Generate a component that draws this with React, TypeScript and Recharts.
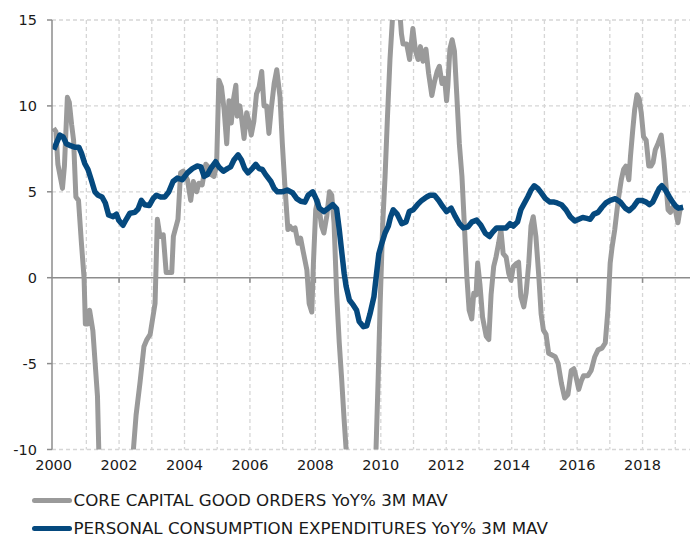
import React from 'react';
import { LineChart, Line, XAxis, YAxis, CartesianGrid, ReferenceLine } from 'recharts';

const FONT = '"DejaVu Sans", Verdana, sans-serif';
const GRAY = '#9a9a9a';
const BLUE = '#05497e';
const AXIS = '#8c8c8c';

const seriesNames = [
  'CORE CAPITAL GOOD ORDERS YoY% 3M MAV',
  'PERSONAL CONSUMPTION EXPENDITURES YoY% 3M MAV',
];

const xTicks = [2000, 2002, 2004, 2006, 2008, 2010, 2012, 2014, 2016, 2018];
const gridYears = [2001, 2002, 2003, 2004, 2005, 2006, 2007, 2008, 2009, 2010, 2011, 2012, 2013, 2014, 2015, 2016, 2017, 2018, 2019];
const zeroTickYears = [2002, 2004, 2006, 2008, 2010, 2012, 2014, 2016, 2018];
const yTicks = [-10, -5, 0, 5, 10, 15];
const yGridValues = [-10, -5, 5, 10, 15];

const grayYears = [
  2000.00, 2000.07, 2000.13, 2000.21, 2000.27, 2000.33, 2000.42, 2000.48, 2000.55, 2000.61,
  2000.68, 2000.76, 2000.85, 2000.93, 2000.97, 2001.04, 2001.10, 2001.20, 2001.27, 2001.34,
  2001.38, 2001.48, 2001.88, 2002.27, 2002.43, 2002.52, 2002.64, 2002.76, 2002.85, 2002.95,
  2003.10, 2003.17, 2003.25, 2003.35, 2003.44, 2003.61, 2003.66, 2003.80, 2003.88, 2003.96,
  2004.09, 2004.19, 2004.27, 2004.37, 2004.44, 2004.54, 2004.65, 2004.75, 2004.82, 2004.90,
  2004.98, 2005.05, 2005.13, 2005.21, 2005.29, 2005.36, 2005.43, 2005.49, 2005.57, 2005.61,
  2005.69, 2005.75, 2005.82, 2005.90, 2005.97, 2006.04, 2006.12, 2006.20, 2006.28, 2006.36,
  2006.43, 2006.51, 2006.58, 2006.65, 2006.74, 2006.82, 2006.92, 2006.99, 2007.07, 2007.16,
  2007.22, 2007.30, 2007.38, 2007.47, 2007.55, 2007.63, 2007.74, 2007.81, 2007.89, 2007.94,
  2008.01, 2008.07, 2008.12, 2008.19, 2008.26, 2008.35, 2008.43, 2008.50, 2008.57, 2008.65,
  2008.73, 2008.80, 2008.88, 2008.95, 2009.12, 2009.43, 2009.73, 2009.85, 2009.92, 2009.98,
  2010.06, 2010.13, 2010.20, 2010.28, 2010.36, 2010.46, 2010.56, 2010.63, 2010.68, 2010.79,
  2010.88, 2010.98, 2011.06, 2011.14, 2011.21, 2011.29, 2011.38, 2011.46, 2011.56, 2011.64,
  2011.72, 2011.79, 2011.87, 2011.95, 2012.01, 2012.05, 2012.11, 2012.18, 2012.25, 2012.32,
  2012.40, 2012.48, 2012.55, 2012.63, 2012.70, 2012.78, 2012.84, 2012.91, 2012.96, 2013.03,
  2013.11, 2013.22, 2013.30, 2013.37, 2013.45, 2013.52, 2013.60, 2013.67, 2013.74, 2013.83,
  2013.91, 2013.98, 2014.05, 2014.13, 2014.21, 2014.28, 2014.37, 2014.44, 2014.52, 2014.59,
  2014.66, 2014.74, 2014.83, 2014.90, 2014.97, 2015.05, 2015.13, 2015.23, 2015.33, 2015.42,
  2015.52, 2015.62, 2015.72, 2015.82, 2015.90, 2015.97, 2016.05, 2016.13, 2016.20, 2016.33,
  2016.43, 2016.54, 2016.64, 2016.76, 2016.86, 2016.94, 2017.01, 2017.07, 2017.15, 2017.22,
  2017.27, 2017.35, 2017.42, 2017.49, 2017.58, 2017.63, 2017.70, 2017.76, 2017.83, 2017.90,
  2017.96, 2018.03, 2018.11, 2018.19, 2018.26, 2018.32, 2018.39, 2018.47, 2018.57, 2018.65,
  2018.72, 2018.78, 2018.85, 2018.92, 2019.00, 2019.08, 2019.14, 2019.19,
];

const grayValues = [
  8.7, 8.5, 6.6, 5.8, 5.2, 6.5, 10.5, 10.2, 8.9, 8.0,
  4.7, 4.5, 2.0, 0.0, -2.7, -2.7, -1.9, -3.1, -5.0, -6.9,
  -10.0, -14, -18, -14, -10.2, -8, -6.1, -4.0, -3.6, -3.3,
  -1.5, 3.4, 2.4, 2.5, 0.3, 0.3, 2.4, 3.4, 6.1, 6.2,
  5.7, 4.5, 5.6, 5.0, 5.5, 5.4, 6.6, 6.4, 6.0, 5.9,
  6.5, 11.5, 11.1, 9.8, 7.8, 10.3, 9.0, 10.3, 11.2, 9.4,
  10.0, 9.2, 8.1, 9.6, 9.1, 8.3, 9.1, 10.7, 11.1, 12.0,
  10.0, 10.0, 8.4, 9.8, 11.3, 12.1, 10.5, 7.8, 5.3, 2.8,
  3.0, 2.8, 2.9, 2.0, 2.3, 1.5, 0.45, -1.5, -2.0, 0.85,
  3.95, 4.5, 3.95, 3.0, 2.6, 3.6, 5.0, 4.8, 3.2, -0.9,
  -3.8, -5.8, -8.3, -10.3, -14, -20, -14, -10.2, -5.8, -1.5,
  3.2, 5.9, 9.2, 12.7, 15.2, 16.5, 16.0, 14.2, 13.6, 13.6,
  12.7, 14.5, 13.2, 12.7, 13.45, 12.6, 13.3, 11.9, 10.6, 11.4,
  12.0, 12.3, 11.3, 11.6, 10.3, 11.2, 13.3, 13.85, 13.2, 10.7,
  7.8, 5.9, 3.2, 0.05, -1.9, -2.4, -0.9, -1.0, 0.85, -0.4,
  -2.3, -3.4, -3.6, -1.0, 0.65, 1.2, 2.0, 2.8, 1.4, 1.2,
  0.25, -0.15, 0.65, 0.8, 0.9, -1.1, -1.7, -0.9, 0.8, 3.0,
  3.55, 2.4, 0.05, -2.1, -3.05, -3.3, -4.4, -4.5, -4.6, -5.0,
  -6.15, -7.0, -6.8, -5.4, -5.3, -5.8, -6.5, -6.0, -5.7, -5.7,
  -5.4, -4.6, -4.2, -4.1, -3.8, -1.9, 0.85, 1.8, 2.8, 3.95,
  4.7, 5.7, 6.3, 6.5, 5.7, 7.05, 8.6, 9.8, 10.65, 10.4,
  9.6, 8.2, 8.0, 6.5, 6.5, 6.7, 7.45, 7.8, 8.3, 6.9,
  5.3, 3.95, 3.8, 4.1, 3.95, 3.2, 3.9, 4.1,
];

const blueYears = [
  2000.00, 2000.08, 2000.19, 2000.29, 2000.39, 2000.49, 2000.64, 2000.77, 2000.85, 2000.95,
  2001.05, 2001.15, 2001.26, 2001.36, 2001.48, 2001.58, 2001.68, 2001.82, 2001.92, 2001.99,
  2002.12, 2002.22, 2002.33, 2002.48, 2002.58, 2002.68, 2002.78, 2002.92, 2003.04, 2003.14,
  2003.27, 2003.40, 2003.52, 2003.65, 2003.78, 2003.93, 2004.09, 2004.24, 2004.39, 2004.50,
  2004.60, 2004.70, 2004.80, 2004.95, 2005.05, 2005.19, 2005.31, 2005.41, 2005.51, 2005.64,
  2005.74, 2005.84, 2005.94, 2006.07, 2006.18, 2006.28, 2006.38, 2006.48, 2006.64, 2006.74,
  2006.84, 2006.99, 2007.14, 2007.30, 2007.43, 2007.55, 2007.68, 2007.78, 2007.92, 2008.02,
  2008.12, 2008.26, 2008.40, 2008.53, 2008.65, 2008.73, 2008.80, 2008.88, 2008.94, 2009.04,
  2009.16, 2009.26, 2009.34, 2009.47, 2009.57, 2009.67, 2009.79, 2009.87, 2009.94, 2010.03,
  2010.13, 2010.23, 2010.30, 2010.38, 2010.50, 2010.64, 2010.77, 2010.87, 2010.99, 2011.12,
  2011.25, 2011.40, 2011.50, 2011.64, 2011.77, 2011.89, 2012.01, 2012.15, 2012.28, 2012.40,
  2012.52, 2012.66, 2012.79, 2012.93, 2013.06, 2013.19, 2013.32, 2013.42, 2013.54, 2013.67,
  2013.83, 2013.95, 2014.05, 2014.18, 2014.28, 2014.39, 2014.49, 2014.59, 2014.69, 2014.80,
  2014.90, 2015.03, 2015.17, 2015.30, 2015.39, 2015.52, 2015.66, 2015.79, 2015.93, 2016.05,
  2016.17, 2016.30, 2016.40, 2016.51, 2016.64, 2016.76, 2016.88, 2017.01, 2017.17, 2017.32,
  2017.47, 2017.59, 2017.73, 2017.86, 2017.98, 2018.11, 2018.21, 2018.31, 2018.41, 2018.51,
  2018.59, 2018.70, 2018.82, 2018.92, 2019.02, 2019.10, 2019.24,
];

const blueValues = [
  7.45, 7.8, 8.3, 8.2, 7.8, 7.7, 7.6, 7.6, 7.25, 6.65,
  6.3, 5.7, 5.0, 4.8, 4.7, 4.35, 3.65, 3.55, 3.7, 3.35,
  3.05, 3.4, 3.75, 3.8, 4.0, 4.5, 4.25, 4.2, 4.6, 4.8,
  4.7, 4.7, 5.0, 5.6, 5.8, 5.7, 6.1, 6.35, 6.5, 6.45,
  5.9, 6.0, 6.35, 6.75, 6.45, 6.2, 6.35, 6.45, 6.85, 7.15,
  6.85, 6.35, 6.1, 6.35, 6.6, 6.35, 6.3, 6.0, 5.6, 5.2,
  5.0, 5.0, 5.1, 4.95, 4.6, 4.45, 4.4, 4.8, 5.0, 4.6,
  4.05, 3.85, 4.05, 4.25, 4.0, 2.8, 1.6, 0.25, -0.5, -1.3,
  -1.6, -1.9, -2.55, -2.85, -2.8, -2.1, -1.1, 0.25, 1.4, 2.0,
  2.6, 3.0, 3.55, 3.95, 3.7, 3.15, 3.25, 3.85, 3.95, 4.25,
  4.5, 4.7, 4.8, 4.8, 4.5, 4.15, 3.85, 4.05, 3.55, 3.15,
  2.9, 2.95, 3.25, 3.35, 3.05, 2.6, 2.4, 2.65, 2.9, 2.9,
  2.9, 3.15, 3.0, 3.25, 3.95, 4.35, 4.7, 5.1, 5.35, 5.2,
  4.95, 4.6, 4.4, 4.4, 4.35, 4.25, 3.95, 3.55, 3.3, 3.4,
  3.5, 3.45, 3.4, 3.7, 3.8, 4.1, 4.35, 4.5, 4.6, 4.4,
  4.05, 3.9, 4.15, 4.5, 4.5, 4.4, 4.25, 4.4, 4.8, 5.2,
  5.35, 5.1, 4.7, 4.4, 4.15, 4.05, 4.1,
];

const grayData = grayYears.map((t, i) => ({ t, v: grayValues[i] }));
const blueData = blueYears.map((t, i) => ({ t, v: blueValues[i] }));

const legendItems = [
  { name: seriesNames[0], color: GRAY },
  { name: seriesNames[1], color: BLUE },
];

export default function App() {
  return (
    <div style={{ position: 'absolute', left: 0, top: 0, width: 690, height: 537, background: '#fff', fontFamily: FONT, overflow: 'hidden' }}>
      <LineChart width={690} height={537} margin={{ top: 20, right: 0, bottom: 57.5, left: 0 }}>
        <CartesianGrid
          horizontalValues={yGridValues}
          verticalValues={gridYears}
          stroke="#d6d6d6"
          strokeDasharray="4 3"
          strokeWidth={1.3}
        />
        <XAxis
          type="number"
          dataKey="t"
          domain={[1999.95, 2019.45]}
          allowDataOverflow
          ticks={xTicks}
          interval={0}
          tickFormatter={(v: number) => String(Math.round(v))}
          axisLine={false}
          tickLine={false}
          height={30}
          tickMargin={4}
          tick={{ fontSize: 14.5, fill: '#1a1a1a', fontFamily: FONT }}
        />
        <YAxis
          type="number"
          domain={[-10, 15]}
          allowDataOverflow
          ticks={yTicks}
          interval={0}
          width={52}
          axisLine={{ stroke: AXIS, strokeWidth: 1.5 }}
          tickLine={{ stroke: AXIS, strokeWidth: 1.5 }}
          tickSize={5}
          tickMargin={10}
          tick={{ fontSize: 14.5, fill: '#1a1a1a', fontFamily: FONT }}
        />
        <ReferenceLine y={0} stroke={AXIS} strokeWidth={1.5} />
        {zeroTickYears.map((yr) => (
          <ReferenceLine
            key={yr}
            segment={[{ x: yr, y: 0 }, { x: yr, y: -0.3 }]}
            stroke={AXIS}
            strokeWidth={1.5}
          />
        ))}
        <Line
          data={grayData}
          dataKey="v"
          name={seriesNames[0]}
          stroke={GRAY}
          strokeWidth={5}
          dot={false}
          activeDot={false}
          type="linear"
          strokeLinejoin="round"
          isAnimationActive={false}
        />
        <Line
          data={blueData}
          dataKey="v"
          name={seriesNames[1]}
          stroke={BLUE}
          strokeWidth={5.5}
          dot={false}
          activeDot={false}
          type="linear"
          strokeLinejoin="round"
          isAnimationActive={false}
        />
      </LineChart>
      {legendItems.map((item, i) => (
        <div
          key={item.name}
          style={{
            position: 'absolute',
            left: 32,
            top: 492 + i * 28,
            height: 16,
            display: 'flex',
            alignItems: 'center',
            whiteSpace: 'nowrap',
          }}
        >
          <div style={{ width: 40, height: 5, borderRadius: 2.5, background: item.color }} />
          <span style={{ marginLeft: 1.5, fontSize: 16.7, color: '#1a1a1a', fontFamily: FONT, lineHeight: '16px' }}>
            {item.name}
          </span>
        </div>
      ))}
    </div>
  );
}
